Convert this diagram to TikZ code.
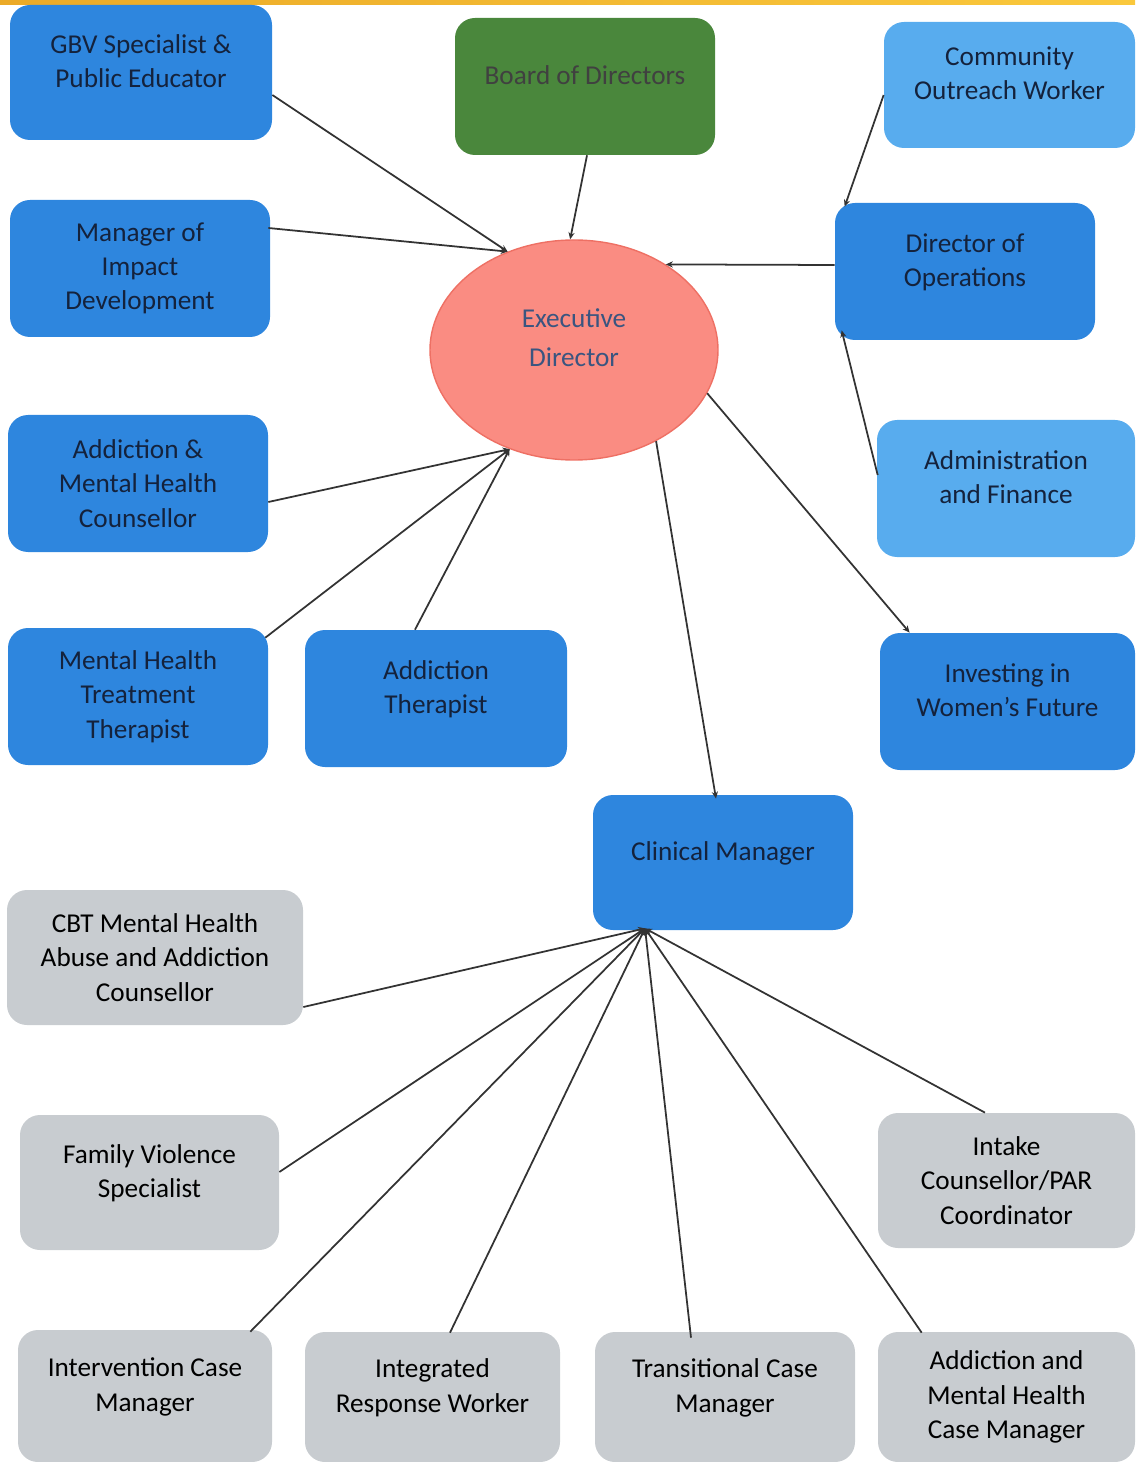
\documentclass[tikz,border=0pt]{standalone}
\usepackage{fontspec}
\setmainfont{Carlito}
\usetikzlibrary{shapes.geometric,arrows.meta,calc}
\definecolor{bluebox}{RGB}{46,134,222}
\definecolor{lightbox}{RGB}{88,172,238}
\definecolor{greenbox}{RGB}{74,135,60}
\definecolor{ellfill}{RGB}{250,140,130}
\definecolor{elldraw}{RGB}{238,112,100}
\definecolor{greybox}{RGB}{200,204,208}
\definecolor{navytext}{RGB}{20,34,60}
\definecolor{edtext}{RGB}{58,85,128}
\definecolor{bandA}{RGB}{235,170,40}
\definecolor{bandB}{RGB}{250,200,60}
\tikzset{
  box/.style 2 args={rounded corners=0.4cm, draw=none, align=center,
    minimum width=#1*0.02cm, minimum height=#2*0.02cm, inner sep=2pt,
    font=\fontsize{15.5}{19.5}\selectfont},
  bluenode/.style={fill=bluebox, text=navytext},
  lightnode/.style={fill=lightbox, text=navytext},
  greennode/.style={fill=greenbox, text=black!75},
  greynode/.style={fill=greybox, text=black},
  up/.style={text depth=0.46cm},
  link/.style={draw=black!80, line width=1pt},
  tip/.style={-{Stealth[length=4pt,width=3.5pt]}},
}
\begin{document}
\begin{tikzpicture}[x=0.02cm,y=-0.02cm]
\useasboundingbox (0,0) rectangle (1135,1462);
\shade[left color=bandA, right color=bandB, draw=none] (0,0) rectangle (1135,5);

% top row / executive region
\node[box={262}{135}, bluenode, up] (gbv) at (141,72.5) {GBV Specialist \&\\Public Educator};
\node[box={260}{137}, greennode, up] (board) at (585,86.5) {Board of Directors};
\node[box={251}{126}, lightnode, up] (cow) at (1009.5,85) {Community\\Outreach Worker};
\node[box={260}{137}, bluenode] (mid) at (140,268.5) {Manager of\\Impact\\Development};
\node[box={260}{137}, bluenode, up] (dirops) at (965,271.5) {Director of\\Operations};
\node[ellipse, minimum width=288*0.02cm, minimum height=220*0.02cm, inner sep=0pt,
      fill=ellfill, draw=elldraw, line width=0.8pt, text=edtext, align=center,
      text depth=0.5cm, font=\fontsize{15.5}{22}\selectfont] (ed) at (574,350) {Executive\\Director};
\node[box={258}{137}, lightnode, up] (admin) at (1006,488.5) {Administration\\and Finance};
\node[box={260}{137}, bluenode] (amhc) at (138,483.5) {Addiction \&\\Mental Health\\Counsellor};
\node[box={260}{137}, bluenode] (mhtt) at (138,696.5) {Mental Health\\Treatment\\Therapist};
\node[box={262}{137}, bluenode, up] (at) at (436,698.5) {Addiction\\Therapist};
\node[box={255}{137}, bluenode, up] (iwf) at (1007.5,701.5) {Investing in\\Women's Future};
\node[box={260}{135}, bluenode, up] (cm) at (723,862.5) {Clinical Manager};

% clinical team
\node[box={296}{135}, greynode] (cbt) at (155,957.5) {CBT Mental Health\\Abuse and Addiction\\Counsellor};
\node[box={259}{135}, greynode, up] (fvs) at (149.5,1182.5) {Family Violence\\Specialist};
\node[box={257}{135}, greynode] (icpc) at (1006.5,1180.5) {Intake\\Counsellor/PAR\\Coordinator};
\node[box={254}{132}, greynode, up] (icm) at (145,1396) {Intervention Case\\Manager};
\node[box={255}{130}, greynode, up] (irw) at (432.5,1397) {Integrated\\Response Worker};
\node[box={260}{130}, greynode, up] (tcm) at (725,1397) {Transitional Case\\Manager};
\node[box={257}{130}, greynode] (amhcm) at (1006.5,1397) {Addiction and\\Mental Health\\Case Manager};

% connectors to executive director
\draw[link, tip] ($(gbv.east)+(0,22.5)$) -- (ed.124);
\draw[link, tip] ($(mid.east)+(-2,-40.5)$) -- (ed.124);
\draw[link, tip] ($(board.south)+(2,0)$) -- (ed.92);
\draw[link, tip] ($(dirops.west)+(0,-6.5)$) -- (ed.43);
\draw[link, tip] ($(amhc.east)+(0,18.5)$) -- (ed.-123);
\draw[link, tip] ($(mhtt.north east)+(-3,10)$) -- (ed.-123);
\draw[link, tip] ($(at.north)+(-21,0)$) -- (ed.-123);
\draw[link, tip] (ed.-18) -- ($(iwf.north west)+(30,0)$);
\draw[link, tip] (ed.-48) -- ($(cm.north)+(-7,4)$);

% director of operations
\draw[link, tip] ($(cow.west)+(0,10)$) -- ($(dirops.north west)+(10,4)$);
\draw[link, tip] ($(admin.west)+(1,-13.5)$) -- ($(dirops.south west)+(7,-10)$);

% clinical manager
\coordinate (cmb) at ($(cm.south)+(-78,-2)$);
\draw[link, tip] ($(cbt.east)+(0,49.5)$) -- (cmb);
\draw[link, tip] ($(fvs.east)+(0,-10.5)$) -- (cmb);
\draw[link, tip] ($(icm.north east)+(-22,2)$) -- (cmb);
\draw[link, tip] ($(irw.north)+(17.5,1)$) -- (cmb);
\draw[link, tip] ($(tcm.north)+(-34,6)$) -- (cmb);
\draw[link, tip] ($(amhcm.north west)+(44,1)$) -- (cmb);
\draw[link, tip] ($(icpc.north)+(-21.5,0)$) -- (cmb);
\end{tikzpicture}
\end{document}
